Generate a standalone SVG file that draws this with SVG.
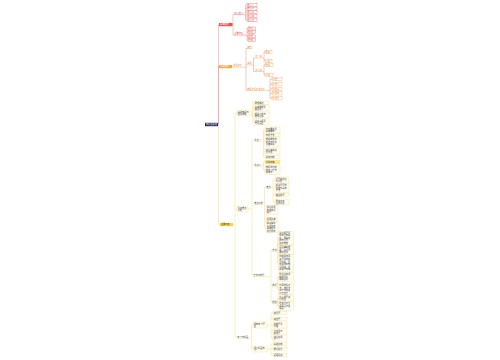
<svg xmlns="http://www.w3.org/2000/svg" width="500" height="360" viewBox="0 0 500 360">
<style>
.t{font-family:"Noto Sans CJK SC","Noto Sans",sans-serif;font-size:2.2px;fill:#444}
.tw{font-family:"Noto Sans CJK SC","Noto Sans",sans-serif;font-size:2.2px;fill:#fff}
.tr{font-family:"Noto Sans CJK SC","Noto Sans",sans-serif;font-size:2.2px;fill:#e8534a}
.to{font-family:"Noto Sans CJK SC","Noto Sans",sans-serif;font-size:2.2px;fill:#e5892c}
.lr{fill:none;stroke:#ef8f8f;stroke-width:0.5}
.ly{fill:none;stroke:#f2dc82;stroke-width:0.5}
.rb{fill:#fff;stroke:#e8534a;stroke-width:0.35}
.ob{fill:#fff;stroke:#f0a04b;stroke-width:0.35}
.yb{fill:#fffdf3;stroke:#f0d66a;stroke-width:0.3}
.ul{fill:none;stroke-width:0.4}
</style>
<rect width="500" height="360" fill="#fff"/>
<g id="connectors">
<path class="lr" d="M218 124.5H218.5V24.6H219M218.5 124.5V66.6H219"/>
<path class="lr" d="M232.5 24.6H233V14.6H234M233 24.6V35.1H234"/>
<path class="lr" d="M244 14.6H245.5M245.5 4.9V19.7M245.5 4.9H247M245.5 8.6H247M245.5 12.3H247M245.5 16H247M245.5 19.7H247"/>
<path class="lr" d="M246 35.1H247M247 28.5V40.3M247 28.5H248M247 32.2H248M247 36.4H248M247 40.3H248"/>
<path class="lr" d="M232 66.6H233M245 67.2H246M246 48.5V90.5M246 48.5H247M246 65H247M246 90.5H247"/>
<path class="lr" d="M252.5 65H253.5M253.5 58V71.5M253.5 58H255M253.5 71.5H255"/>
<path class="lr" d="M263 58H264M264 52V61M264 52H265M264 61H265M263 71.5H264M264 65V75M264 65H265M264 75H265"/>
<path class="lr" d="M268 90.5H270M270 79V98.3M270 79H272M270 84.3H272M270 89H272M270 93.3H272M270 98.3H272"/>
<path class="ly" d="M218.5 124.5V224.6H220M233 224.6H235M235 113V337M235 113H237M235 209H237M235 337H237"/>
<path class="ly" d="M252 113H252.7M252.7 102.7V122M252.7 102.7H254M252.7 108H254M252.7 115H254M252.7 122H254"/>
<path class="ly" d="M248 209H252M252 140V275M252 140H254M252 165H254M252 203H254M252 275H253"/>
<path class="ly" d="M262 140H263.5M263.5 130V157M263.5 130H265M263.5 135H265M263.5 142H265M263.5 151H265M263.5 157H265"/>
<path class="ly" d="M262 165H263.5M263.5 162V170M263.5 162H265M263.5 170H265"/>
<path class="ly" d="M263 203H264.5M264.5 187V227M264.5 187H266M264.5 210H266M264.5 219H266M264.5 227H266"/>
<path class="ly" d="M271 187H273M273 180V202M273 180H275M273 188H275M273 195H275M273 202H275"/>
<path class="ly" d="M270 275H271M271 250V302M271 250H272M271 285H272M271 302H272"/>
<path class="ly" d="M277 250H277.5M277.5 238V263M277.5 238H278.5M277.5 250H278.5M277.5 263H278.5"/>
<path class="ly" d="M277 285H277.5M277.5 277V289M277.5 277H278.5M277.5 289H278.5M277 302H277.5M277.5 298V306M277.5 298H278.5M277.5 306H278.5"/>
<path class="ly" d="M250 337H251.5M251.5 325V349M251.5 325H253M251.5 349H253"/>
<path class="ly" d="M267 325H271M271 313V338M271 313H273M271 319H273M271 325H273M271 332H273M271 338H273"/>
<path class="ly" d="M267 349H271M271 344V355M271 344H273M271 349H273M271 355H273"/>
</g>
<g id="root"><rect x="205" y="122.8" width="13" height="3.4" fill="#1d2b4f"/><text class="tw" x="205.9" y="125.3">知识点总结</text></g>
<g id="n1"><rect x="219" y="23" width="13.5" height="3.2" fill="#e8534a"/><text class="tw" x="220" y="25.4">基本概念</text></g>
<g id="n1a"><text class="tr" x="234.3" y="13.8">核心定义</text><path class="ul" stroke="#e8534a" d="M234 14.6H244"/></g>
<g id="n1a1"><rect class="rb" x="247" y="3.4" width="10" height="3"/><text class="tr" x="247.6" y="5.7">定义一</text></g>
<g id="n1a2"><rect class="rb" x="247" y="7.1" width="10" height="3"/><text class="tr" x="247.6" y="9.4">定义二</text></g>
<g id="n1a3"><rect class="rb" x="247" y="10.8" width="10" height="3"/><text class="tr" x="247.6" y="13.1">定义三</text></g>
<g id="n1a4"><rect class="rb" x="247" y="14.5" width="10" height="3"/><text class="tr" x="247.6" y="16.8">定义四</text></g>
<g id="n1a5"><rect class="rb" x="247" y="18.2" width="10" height="3"/><text class="tr" x="247.6" y="20.5">定义五</text></g>
<g id="n1b"><text class="tr" x="234.3" y="34.3">主要特征</text><path class="ul" stroke="#e8534a" d="M234 35.1H246"/></g>
<g id="n1b1"><rect class="rb" x="248" y="27" width="7.5" height="3"/><text class="tr" x="248.5" y="29.3">特征</text></g>
<g id="n1b2"><rect class="rb" x="248" y="30.7" width="7.5" height="3"/><text class="tr" x="248.5" y="33">特点</text></g>
<g id="n1b3"><rect class="rb" x="248" y="34.9" width="7.5" height="3"/><text class="tr" x="248.5" y="37.2">性质</text></g>
<g id="n1b4"><rect class="rb" x="248" y="38.8" width="7.5" height="3"/><text class="tr" x="248.5" y="41.1">作用</text></g>
<g id="n2"><rect x="219" y="65" width="13" height="3.2" fill="#f4a742"/><text class="tw" x="220" y="67.4">分类结构</text></g>
<g id="n2a"><text class="to" x="233.3" y="66.4">类型划分</text><path class="ul" stroke="#f0a04b" d="M233 67.2H245"/></g>
<g id="n2a1"><text class="to" x="247.3" y="47.8">其他</text><path class="ul" stroke="#f0a04b" d="M247 48.5H252.5"/></g>
<g id="n2a2"><text class="to" x="247.3" y="64.3">类别</text><path class="ul" stroke="#f0a04b" d="M247 65H252.5"/></g>
<g id="n2a2a"><text class="to" x="255.3" y="57.3">第一类</text><path class="ul" stroke="#f0a04b" d="M255 58H263"/></g>
<g id="n2a2a1"><rect class="ob" x="265" y="50.5" width="7" height="3"/><text class="to" x="265.5" y="52.8">甲类</text></g>
<g id="n2a2a2"><rect class="ob" x="265" y="59.5" width="7" height="3"/><text class="to" x="265.5" y="61.8">乙类</text></g>
<g id="n2a2b"><text class="to" x="255.3" y="70.8">第二类</text><path class="ul" stroke="#f0a04b" d="M255 71.5H263"/></g>
<g id="n2a2b1"><rect class="ob" x="265" y="63.5" width="8" height="3"/><text class="to" x="265.5" y="65.8">丙类</text></g>
<g id="n2a2b2"><rect class="ob" x="265" y="73.5" width="8" height="3"/><text class="to" x="265.5" y="75.8">丁类</text></g>
<g id="n2a3"><text class="to" x="247.3" y="89.8">按照不同标准划分</text><path class="ul" stroke="#f0a04b" d="M247 90.5H268"/></g>
<g id="n2a3a"><rect class="ob" x="272" y="77.3" width="10" height="3.4"/><text class="to" x="272.6" y="79.8">标准一</text></g>
<g id="n2a3b"><rect class="ob" x="272" y="82.6" width="10" height="3.4"/><text class="to" x="272.6" y="85.1">标准二</text></g>
<g id="n2a3c"><rect class="ob" x="272" y="87.3" width="10" height="3.4"/><text class="to" x="272.6" y="89.8">标准三</text></g>
<g id="n2a3d"><rect class="ob" x="272" y="91.6" width="10" height="3.4"/><text class="to" x="272.6" y="94.1">标准四</text></g>
<g id="n2a3e"><rect class="ob" x="272" y="96.6" width="10" height="3.4"/><text class="to" x="272.6" y="99.1">标准五</text></g>
<g id="n3"><rect x="220" y="223" width="13" height="3.2" fill="#f5d547"/><text class="t" x="220.8" y="225.4" fill="#333">主要内容</text></g>
<g id="y1"><rect class="yb" x="237" y="110" width="15" height="6"/><text class="t" x="237.8" y="112.5">基础知识与</text><text class="t" x="237.8" y="115.1">相关原理</text></g>
<g id="y1a"><rect class="yb" x="254" y="101" width="15" height="3.4"/><text class="t" x="254.8" y="103.5">原理概述</text></g>
<g id="y1b"><rect class="yb" x="254" y="105" width="15" height="6"/><text class="t" x="254.8" y="107.5">基本原理及</text><text class="t" x="254.8" y="110.1">其应用</text></g>
<g id="y1c"><rect class="yb" x="254" y="112" width="15" height="6"/><text class="t" x="254.8" y="114.5">相关公式与</text><text class="t" x="254.8" y="117.1">推导过程</text></g>
<g id="y1d"><rect class="yb" x="254" y="119" width="15" height="6"/><text class="t" x="254.8" y="121.5">注意事项及</text><text class="t" x="254.8" y="124.1">常见误区</text></g>
<g id="y2"><rect class="yb" x="237" y="206" width="11" height="6"/><text class="t" x="237.7" y="208.5">重点难点</text><text class="t" x="237.7" y="211.1">分析</text></g>
<g id="y2a"><text class="t" x="254.3" y="140.8">重点一</text><path class="ul" stroke="#f0d66a" d="M254 141.6H262"/></g>
<g id="y2a1"><rect class="yb" x="265" y="127" width="15" height="6"/><text class="t" x="265.8" y="129.5">内容要点及</text><text class="t" x="265.8" y="132.1">基本要求</text></g>
<g id="y2a2"><rect class="yb" x="265" y="133.3" width="15" height="3.4"/><text class="t" x="265.8" y="135.8">掌握方法</text></g>
<g id="y2a3"><rect class="yb" x="265" y="137.7" width="15" height="8.6"/><text class="t" x="265.8" y="140.2">理解概念的</text><text class="t" x="265.8" y="142.8">内涵与外延</text><text class="t" x="265.8" y="145.4">及其联系</text></g>
<g id="y2a4"><rect class="yb" x="265" y="148" width="15" height="6"/><text class="t" x="265.8" y="150.5">结合实例进</text><text class="t" x="265.8" y="153.1">行分析</text></g>
<g id="y2a5"><rect class="yb" x="265" y="155.3" width="15" height="3.4"/><text class="t" x="265.8" y="157.8">总结归纳</text></g>
<g id="y2b"><text class="t" x="254.3" y="165.8">重点二</text><path class="ul" stroke="#f0d66a" d="M254 166.6H262"/></g>
<g id="y2b1"><rect x="265" y="160.3" width="15" height="3.4" fill="#fbe88a" stroke="#f0d66a" stroke-width="0.3"/><text class="t" x="265.8" y="162.8">关键步骤</text></g>
<g id="y2b2"><rect class="yb" x="265" y="165.7" width="15" height="8.6"/><text class="t" x="265.8" y="168.2">按照顺序完</text><text class="t" x="265.8" y="170.8">成各个环节</text><text class="t" x="265.8" y="173.4">的操作</text></g>
<g id="y2c"><text class="t" x="254.3" y="203.8">难点分析</text><path class="ul" stroke="#f0d66a" d="M254 204.6H263"/></g>
<g id="y2c0"><text class="t" x="266.3" y="187.8">难点</text><path class="ul" stroke="#f0d66a" d="M266 188.6H271"/></g>
<g id="y2c01"><rect class="yb" x="275" y="177" width="14" height="6"/><text class="t" x="275.7" y="179.5">问题的提出</text><text class="t" x="275.7" y="182.1">与分析</text></g>
<g id="y2c02"><rect class="yb" x="275" y="183.7" width="14" height="8.6"/><text class="t" x="275.7" y="186.2">解决问题的</text><text class="t" x="275.7" y="188.8">思路与具体</text><text class="t" x="275.7" y="191.4">方法</text></g>
<g id="y2c03"><rect class="yb" x="275" y="193.3" width="14" height="3.4"/><text class="t" x="275.7" y="195.8">典型例题</text></g>
<g id="y2c04"><rect class="yb" x="275" y="199" width="14" height="6"/><text class="t" x="275.7" y="201.5">易错点与</text><text class="t" x="275.7" y="204.1">注意事项</text></g>
<g id="y2c1"><rect class="yb" x="266" y="205.7" width="12" height="8.6"/><text class="t" x="266.7" y="208.2">综合运用</text><text class="t" x="266.7" y="210.8">所学知识</text><text class="t" x="266.7" y="213.4">解题</text></g>
<g id="y2c2"><rect class="yb" x="266" y="217.3" width="12" height="3.4"/><text class="t" x="266.7" y="219.8">拓展延伸</text></g>
<g id="y2c3"><rect class="yb" x="266" y="221.4" width="12" height="11.2"/><text class="t" x="266.7" y="223.9">联系实际</text><text class="t" x="266.7" y="226.5">生活中的</text><text class="t" x="266.7" y="229.1">具体现象</text><text class="t" x="266.7" y="231.7">进行思考</text></g>
<g id="y2d"><text class="t" x="253.3" y="275.8">方法与技巧</text><path class="ul" stroke="#f0d66a" d="M253 276.6H270"/></g>
<g id="y2d1"><text class="t" x="272.2" y="250.8">方法</text><path class="ul" stroke="#f0d66a" d="M272 251.6H277"/></g>
<g id="y2d1a"><rect class="yb" x="278.5" y="231.1" width="15" height="13.8"/><text class="t" x="279.3" y="233.6">先分析题目</text><text class="t" x="279.3" y="236.2">中的已知条</text><text class="t" x="279.3" y="238.8">件，再确定</text><text class="t" x="279.3" y="241.4">所求问题，</text><text class="t" x="279.3" y="244">逐步推理</text></g>
<g id="y2d1b"><rect class="yb" x="278.5" y="245.7" width="15" height="8.6"/><text class="t" x="279.3" y="248.2">画图辅助理</text><text class="t" x="279.3" y="250.8">解，使问题</text><text class="t" x="279.3" y="253.4">更加直观</text></g>
<g id="y2d1c"><rect class="yb" x="278.5" y="254.8" width="15" height="16.4"/><text class="t" x="279.3" y="257.3">归纳总结同</text><text class="t" x="279.3" y="259.9">类题型的解</text><text class="t" x="279.3" y="262.5">题规律，形</text><text class="t" x="279.3" y="265.1">成系统的知</text><text class="t" x="279.3" y="267.7">识网络，提</text><text class="t" x="279.3" y="270.3">高解题效率</text></g>
<g id="y2d2"><text class="t" x="272.2" y="285.8">技巧</text><path class="ul" stroke="#f0d66a" d="M272 286.6H277"/></g>
<g id="y2d2a"><rect class="yb" x="278.5" y="272.7" width="15" height="8.6"/><text class="t" x="279.3" y="275.2">抓住关键词</text><text class="t" x="279.3" y="277.8">理解题意，</text><text class="t" x="279.3" y="280.4">明确目标</text></g>
<g id="y2d2b"><rect class="yb" x="278.5" y="283.4" width="15" height="11.2"/><text class="t" x="279.3" y="285.9">利用特殊值</text><text class="t" x="279.3" y="288.5">法、排除法</text><text class="t" x="279.3" y="291.1">等方法快速</text><text class="t" x="279.3" y="293.7">得出答案</text></g>
<g id="y2d3"><text class="t" x="272.2" y="302.8">检验</text><path class="ul" stroke="#f0d66a" d="M272 303.6H277"/></g>
<g id="y2d3a"><rect class="yb" x="278.5" y="295" width="15" height="6"/><text class="t" x="279.3" y="297.5">代入原题进</text><text class="t" x="279.3" y="300.1">行检验</text></g>
<g id="y2d3b"><rect class="yb" x="278.5" y="301.7" width="15" height="8.6"/><text class="t" x="279.3" y="304.2">检查计算过</text><text class="t" x="279.3" y="306.8">程是否存在</text><text class="t" x="279.3" y="309.4">错误</text></g>
<g id="y3"><text class="t" x="237.3" y="337.8">练习与巩固</text><path class="ul" stroke="#f0d66a" d="M237 338.6H250"/></g>
<g id="y3a"><rect class="yb" x="253" y="322" width="14" height="6"/><text class="t" x="253.7" y="324.5">课堂练习题</text><text class="t" x="253.7" y="327.1">型</text></g>
<g id="y3a1"><rect class="yb" x="273" y="311.3" width="14" height="3.4"/><text class="t" x="273.7" y="313.8">选择题</text></g>
<g id="y3a2"><rect class="yb" x="273" y="317.3" width="14" height="3.4"/><text class="t" x="273.7" y="319.8">填空题</text></g>
<g id="y3a3"><rect class="yb" x="273" y="322" width="14" height="6"/><text class="t" x="273.7" y="324.5">判断题及</text><text class="t" x="273.7" y="327.1">改错</text></g>
<g id="y3a4"><rect class="yb" x="273" y="329" width="14" height="6"/><text class="t" x="273.7" y="331.5">计算题与</text><text class="t" x="273.7" y="334.1">解答题</text></g>
<g id="y3a5"><rect class="yb" x="273" y="335" width="14" height="6"/><text class="t" x="273.7" y="337.5">综合应用</text><text class="t" x="273.7" y="340.1">题</text></g>
<g id="y3b"><rect class="yb" x="253" y="346" width="14" height="6"/><text class="t" x="253.7" y="348.5">课后巩固练</text><text class="t" x="253.7" y="351.1">习</text></g>
<g id="y3b1"><rect class="yb" x="273" y="342.3" width="14" height="3.4"/><text class="t" x="273.7" y="344.8">基础训练</text></g>
<g id="y3b2"><rect class="yb" x="273" y="347.3" width="14" height="3.4"/><text class="t" x="273.7" y="349.8">能力提升</text></g>
<g id="y3b3"><rect class="yb" x="273" y="353.3" width="14" height="3.4"/><text class="t" x="273.7" y="355.8">拓展探究</text></g>
</svg>
